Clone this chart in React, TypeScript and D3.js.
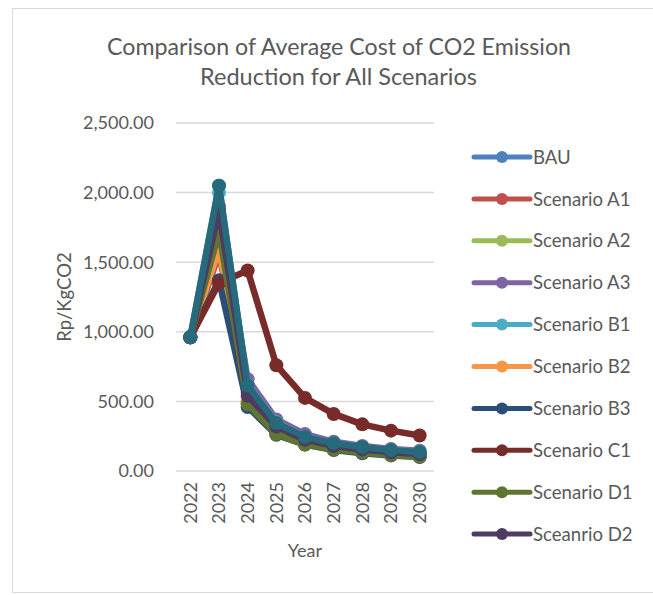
import React from "react";
import * as d3 from "d3";

const years = ["2022", "2023", "2024", "2025", "2026", "2027", "2028", "2029", "2030"];
const yTicks = [0, 500, 1000, 1500, 2000, 2500];

const seriesNames = ["BAU", "Scenario A1", "Scenario A2", "Scenario A3", "Scenario B1", "Scenario B2", "Scenario B3", "Scenario C1", "Scenario D1", "Sceanrio D2", "Scenario E"];
const seriesColors = ["#4F81BD", "#C0504D", "#9BBB59", "#8064A2", "#4BACC6", "#F79646", "#2C4D75", "#772C2A", "#5F7530", "#4D3B62", "#276A7C"];
const legendCount = 10;

const bau = [960, 2050, 600, 340, 240, 195, 165, 145, 130];
const a1 = [960, 1560, 560, 310, 215, 175, 150, 130, 118];
const a2 = [960, 1650, 490, 280, 200, 160, 138, 120, 110];
const a3 = [960, 1900, 660, 370, 265, 210, 180, 158, 145];
const b1 = [960, 2000, 620, 350, 245, 200, 170, 150, 138];
const b2 = [960, 1600, 500, 285, 200, 160, 138, 120, 108];
const b3 = [960, 1370, 460, 260, 190, 150, 128, 112, 100];
const c1 = [960, 1350, 1440, 760, 525, 410, 335, 290, 255];
const d1 = [960, 1720, 480, 265, 190, 155, 132, 115, 103];
const d2 = [960, 1870, 540, 320, 225, 180, 155, 135, 122];
const e = [960, 2050, 615, 345, 245, 200, 172, 150, 137];
const seriesValues = [bau, a1, a2, a3, b1, b2, b3, c1, d1, d2, e];

const W = 653;
const H = 595;
const plotLeft = 176;
const plotRight = 434;
const plotTop = 123;
const plotBottom = 471;
const textColor = "#595959";
const font = "Lato, 'Open Sans', sans-serif";

export default function App() {
  const x = d3.scaleBand<string>().domain(years).range([plotLeft, plotRight]);
  const y = d3.scaleLinear().domain([0, 2500]).range([plotBottom, plotTop]);
  const cxOf = (i: number) => (x(years[i]) as number) + x.bandwidth() / 2;
  const line = d3
    .line<number>()
    .x((_, i) => cxOf(i))
    .y((v) => y(v));
  const fmt = d3.format(",.2f");

  const legendX1 = 474;
  const legendX2 = 530;
  const legendY0 = 157;
  const legendStep = 41.9;

  return (
    <svg width={W} height={H} style={{ position: "absolute", left: 0, top: 0, background: "#fff" }} fontFamily={font}>
      <rect x={0} y={0} width={W} height={H} fill="#fff" />
      <rect x={12.5} y={8.5} width={700} height={584} fill="none" stroke="#D9D9D9" strokeWidth={1} />
      <text x={339} y={55} textAnchor="middle" fontSize={24} fill={textColor} textLength={464} lengthAdjust="spacingAndGlyphs">
        Comparison of Average Cost of CO2 Emission
      </text>
      <text x={338.5} y={85} textAnchor="middle" fontSize={24} fill={textColor} textLength={277} lengthAdjust="spacingAndGlyphs">
        Reduction for All Scenarios
      </text>
      {yTicks.map((t) => (
        <g key={t}>
          <line x1={plotLeft} x2={plotRight} y1={y(t)} y2={y(t)} stroke="#D9D9D9" strokeWidth={1.5} />
          <text x={154} y={y(t)} dy="0.36em" textAnchor="end" fontSize={18} fill={textColor}>
            {fmt(t)}
          </text>
        </g>
      ))}
      {years.map((yr, i) => (
        <text key={yr} transform={`translate(${cxOf(i)},${482}) rotate(-90)`} textAnchor="end" dy="0.36em" fontSize={18} fill={textColor}>
          {yr}
        </text>
      ))}
      <text x={305} y={557} textAnchor="middle" fontSize={18} fill={textColor}>
        Year
      </text>
      <text transform={`translate(71,${(plotTop + plotBottom) / 2}) rotate(-90)`} textAnchor="middle" fontSize={18.5} fill={textColor}>
        Rp/KgCO2
      </text>
      {seriesValues.map((vals, si) => (
        <g key={si}>
          <path d={line(vals) || ""} fill="none" stroke={seriesColors[si]} strokeWidth={6.5} strokeLinejoin="round" />
          {vals.map((v, i) => (
            <circle key={i} cx={cxOf(i)} cy={y(v)} r={7} fill={seriesColors[si]} />
          ))}
        </g>
      ))}
      {seriesNames.slice(0, legendCount).map((name, i) => {
        const ly = legendY0 + i * legendStep;
        return (
          <g key={name}>
            <line x1={legendX1} x2={legendX2} y1={ly} y2={ly} stroke={seriesColors[i]} strokeWidth={5} strokeLinecap="round" />
            <circle cx={502} cy={ly} r={6} fill={seriesColors[i]} />
            <text x={533} y={ly} dy="0.36em" fontSize={18.6} fill={textColor}>
              {name}
            </text>
          </g>
        );
      })}
    </svg>
  );
}
